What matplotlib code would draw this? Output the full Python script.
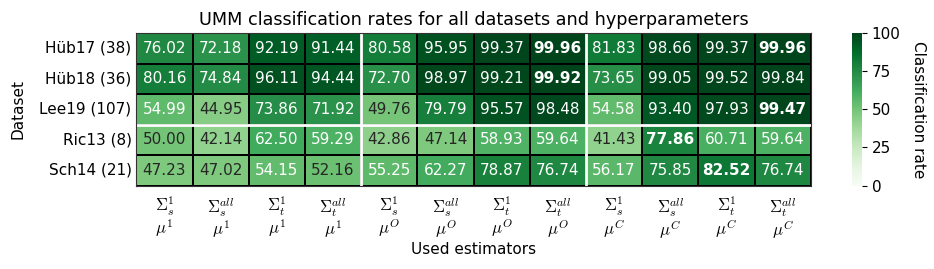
import matplotlib
matplotlib.use('Agg')
import matplotlib.pyplot as plt
import seaborn as sns
import numpy as np

plt.rcParams['mathtext.fontset'] = 'cm'

datasets = ['Hüb17 (38)', 'Hüb18 (36)', 'Lee19 (107)', 'Ric13 (8)', 'Sch14 (21)']
estimators = [r'$\Sigma_s^1$' + '\n' + r'$\mu^1$', r'$\Sigma_s^{all}$' + '\n' + r'$\mu^1$',
              r'$\Sigma_t^1$' + '\n' + r'$\mu^1$', r'$\Sigma_t^{all}$' + '\n' + r'$\mu^1$',
              r'$\Sigma_s^1$' + '\n' + r'$\mu^O$', r'$\Sigma_s^{all}$' + '\n' + r'$\mu^O$',
              r'$\Sigma_t^1$' + '\n' + r'$\mu^O$', r'$\Sigma_t^{all}$' + '\n' + r'$\mu^O$',
              r'$\Sigma_s^1$' + '\n' + r'$\mu^C$', r'$\Sigma_s^{all}$' + '\n' + r'$\mu^C$',
              r'$\Sigma_t^1$' + '\n' + r'$\mu^C$', r'$\Sigma_t^{all}$' + '\n' + r'$\mu^C$']

hub17 = [76.02, 72.18, 92.19, 91.44, 80.58, 95.95, 99.37, 99.96, 81.83, 98.66, 99.37, 99.96]
hub18 = [80.16, 74.84, 96.11, 94.44, 72.70, 98.97, 99.21, 99.92, 73.65, 99.05, 99.52, 99.84]
lee19 = [54.99, 44.95, 73.86, 71.92, 49.76, 79.79, 95.57, 98.48, 54.58, 93.40, 97.93, 99.47]
ric13 = [50.00, 42.14, 62.50, 59.29, 42.86, 47.14, 58.93, 59.64, 41.43, 77.86, 60.71, 59.64]
sch14 = [47.23, 47.02, 54.15, 52.16, 55.25, 62.27, 78.87, 76.74, 56.17, 75.85, 82.52, 76.74]

# (row, col) of highlighted best values
best = [(0, 7), (0, 11), (1, 7), (2, 11), (3, 9), (4, 10)]

rates = np.array([hub17, hub18, lee19, ric13, sch14])

fig = plt.figure(figsize=(9.34, 2.69), dpi=100)
ax = fig.add_axes([0.146, 0.31, 0.722, 0.567])
cax = fig.add_axes([0.912, 0.31, 0.011, 0.567])

sns.heatmap(rates, ax=ax, cbar_ax=cax, cmap='Greens', vmin=0, vmax=100,
            annot=True, fmt='.2f', annot_kws={'fontsize': 11},
            linewidths=1.2, linecolor='black',
            xticklabels=estimators, yticklabels=datasets,
            cbar_kws={'label': 'Classification rate', 'ticks': [0, 25, 50, 75, 100]})

n_cols = rates.shape[1]
for t_idx, txt in enumerate(ax.texts):
    r, c = divmod(t_idx, n_cols)
    if (r, c) in best:
        txt.set_fontweight('bold')

for x in [4, 8]:
    ax.axvline(x, color='white', lw=2)
ax.axhline(3, color='white', lw=2)
for sp in ax.spines.values():
    sp.set_visible(True)
    sp.set_color('#333333')

ax.tick_params(length=0, labelsize=11)
ax.tick_params(axis='x', pad=7)
ax.set_yticklabels(datasets, rotation=0)
ax.set_xticklabels(estimators, rotation=0, fontsize=12, linespacing=0.95)
ax.set_xlabel('Used estimators', fontsize=11, labelpad=1)
ax.set_ylabel('Dataset', fontsize=11, labelpad=10)
ax.set_title('UMM classification rates for all datasets and hyperparameters', fontsize=12.7)

cax.tick_params(labelsize=11)
cax.yaxis.label.set_size(11)
cax.yaxis.label.set_rotation(270)
cax.yaxis.labelpad = 18

fig.savefig('out.png', dpi=100)
